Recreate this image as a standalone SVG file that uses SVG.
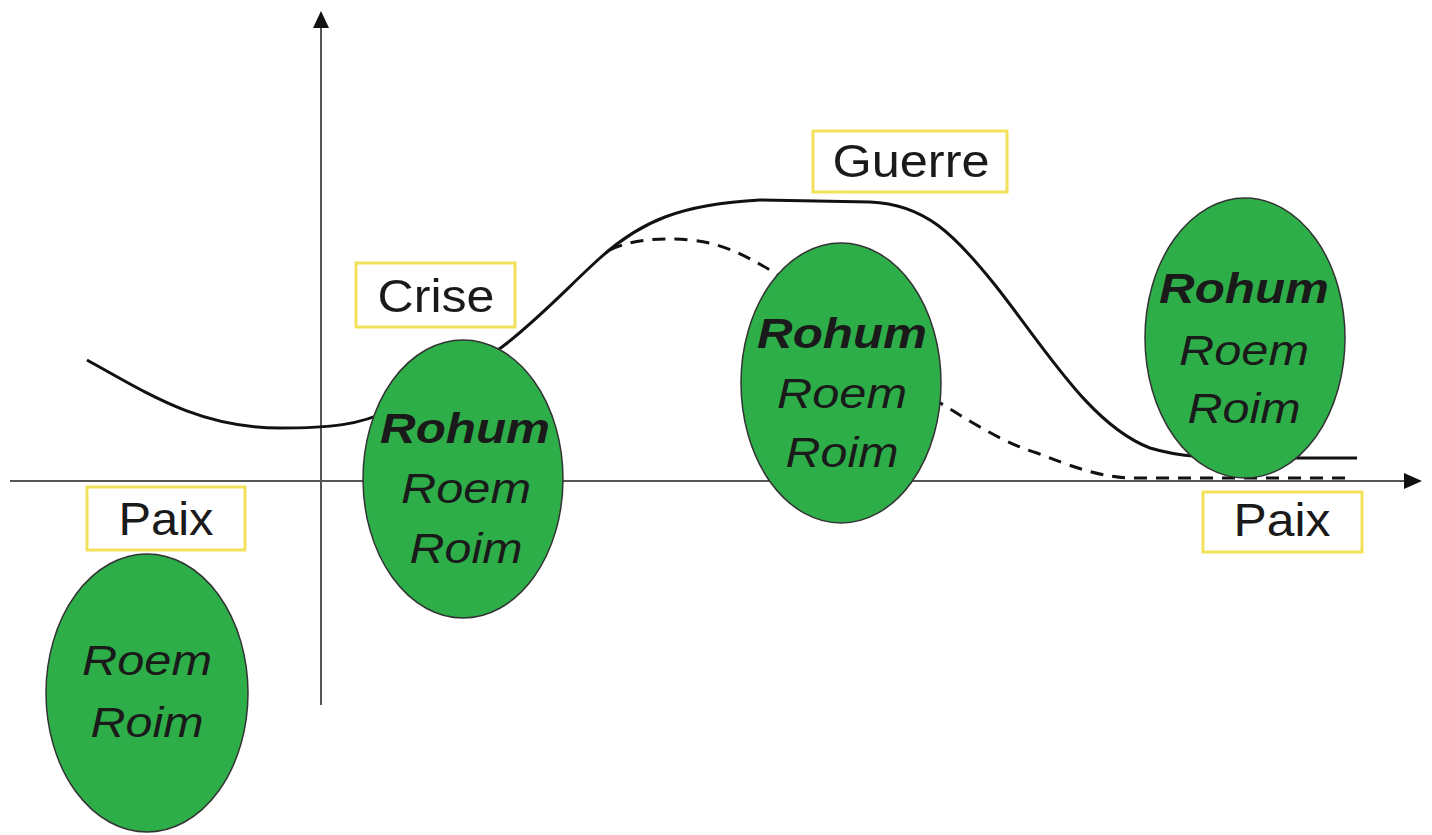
<svg xmlns="http://www.w3.org/2000/svg" width="1432" height="835" viewBox="0 0 1432 835">
<style>
.axis{stroke:#555;stroke-width:2;fill:none}
.curve{stroke:#111;stroke-width:3;fill:none}
.dash{stroke:#111;stroke-width:3;fill:none;stroke-dasharray:13 9}
.ell{fill:#2eae49;stroke:#333;stroke-width:1.5}
.box{fill:#fff;stroke:#f2e15a;stroke-width:3}
.lbl{font-family:"Liberation Sans",Arial,sans-serif;font-size:46px;fill:#1a1a1a;text-anchor:middle}
.t{font-family:"Liberation Sans",Arial,sans-serif;font-size:42px;fill:#1a1a1a;text-anchor:middle;font-style:italic}
.b{font-weight:bold}
</style>
<defs>
<marker id="arr" markerWidth="10" markerHeight="10" refX="9" refY="5" orient="auto" markerUnits="userSpaceOnUse" viewBox="0 0 10 10">
<path d="M0,0 L10,5 L0,10 Z" fill="#111"/>
</marker>
</defs>
<rect width="1432" height="835" fill="#fff"/>
<g id="connectors">
<line class="axis" x1="10" y1="481" x2="1412" y2="481"/>
<path d="M1404,473 L1422,481 L1404,489 Z" fill="#111"/>
<line class="axis" x1="321" y1="705" x2="321" y2="24"/>
<path d="M313,28 L321,11 L329,28 Z" fill="#111"/>
<path class="curve" d="M87 360 C150 395,200 428,280 428 C330 428,360 425,390 410 C430 390,470 370,502 347 C540 318,570 285,600 258 C640 222,680 204,760 200 L870 202 C925 204,955 235,995 285 C1045 348,1090 425,1150 448 C1180 457,1210 458,1240 458 L1357 458"/>
<path class="dash" d="M610 250 C630 240,660 237,690 240 C720 243,740 252,775 273 C830 310,890 375,947 407 C980 428,1010 445,1037 453 C1070 466,1100 477,1130 478 L1350 478"/>
</g>
<g id="node-paix1">
<ellipse class="ell" cx="147" cy="693" rx="101" ry="139"/>
<text class="t" x="147" y="675" textLength="130" lengthAdjust="spacingAndGlyphs">Roem</text>
<text class="t" x="147" y="737" textLength="113" lengthAdjust="spacingAndGlyphs">Roim</text>
</g>
<g id="label-paix1">
<rect class="box" x="87" y="487" width="158" height="63"/>
<text class="lbl" x="166" y="535" textLength="95" lengthAdjust="spacingAndGlyphs">Paix</text>
</g>
<g id="node-crise">
<ellipse class="ell" cx="463" cy="479" rx="100" ry="139"/>
<text class="t b" x="465" y="443" textLength="170" lengthAdjust="spacingAndGlyphs">Rohum</text>
<text class="t" x="466" y="503" textLength="130" lengthAdjust="spacingAndGlyphs">Roem</text>
<text class="t" x="466" y="563" textLength="113" lengthAdjust="spacingAndGlyphs">Roim</text>
</g>
<g id="label-crise">
<rect class="box" x="356" y="263" width="159" height="64"/>
<text class="lbl" x="436" y="312" textLength="117" lengthAdjust="spacingAndGlyphs">Crise</text>
</g>
<g id="node-middle">
<ellipse class="ell" cx="841" cy="383" rx="100" ry="140"/>
<text class="t b" x="842" y="348" textLength="170" lengthAdjust="spacingAndGlyphs">Rohum</text>
<text class="t" x="842" y="408" textLength="130" lengthAdjust="spacingAndGlyphs">Roem</text>
<text class="t" x="842" y="467" textLength="113" lengthAdjust="spacingAndGlyphs">Roim</text>
</g>
<g id="label-guerre">
<rect class="box" x="813" y="131" width="194" height="61"/>
<text class="lbl" x="911" y="177" textLength="157" lengthAdjust="spacingAndGlyphs">Guerre</text>
</g>
<g id="node-right">
<ellipse class="ell" cx="1245" cy="338" rx="100" ry="140"/>
<text class="t b" x="1244" y="303" textLength="170" lengthAdjust="spacingAndGlyphs">Rohum</text>
<text class="t" x="1244" y="365" textLength="130" lengthAdjust="spacingAndGlyphs">Roem</text>
<text class="t" x="1244" y="423" textLength="113" lengthAdjust="spacingAndGlyphs">Roim</text>
</g>
<g id="label-paix2">
<rect class="box" x="1203" y="492" width="159" height="60"/>
<text class="lbl" x="1282" y="536" textLength="97" lengthAdjust="spacingAndGlyphs">Paix</text>
</g>
</svg>
